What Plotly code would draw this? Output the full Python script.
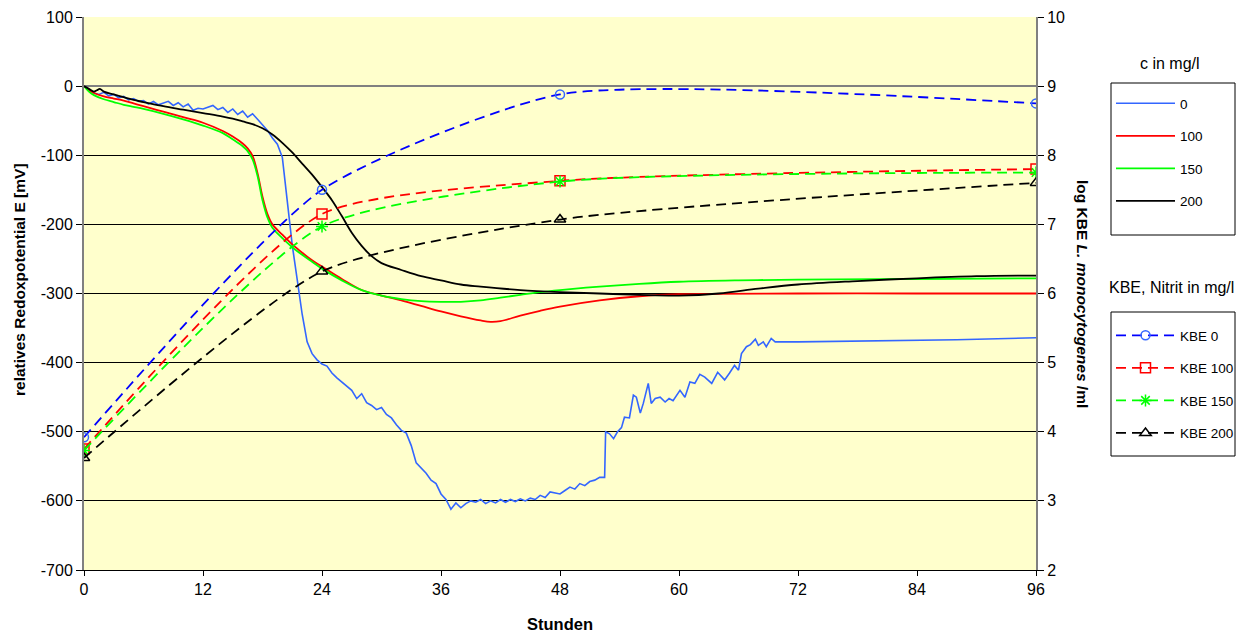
import plotly.graph_objects as go

# ---------------- data ----------------
# Redox potential curves (mV) - left axis
t_c0 = [0,0.5,1,1.5,2,2.5,3,3.5,4,4.5,5,5.5,6,6.5,7,7.5,8,8.5,9,9.5,10,10.5,11,11.5,12,12.5,13,13.5,14,14.5,
        15,15.5,16,16.5,17,17.5,18,18.5,19,19.5,20,20.5,21,21.5,22,22.5,23,23.5,24,24.5,25,25.5,26,26.5,27,27.5,
        28,28.5,29,29.5,30,30.5,31,31.5,32,32.5,33,33.5,34,34.5,35,35.5,36,36.5,37,37.5,38,38.5,39,39.5,40,40.5,
        41,41.5,42,42.5,43,43.5,44,44.5,45,45.5,46,46.5,47,47.5,48,48.5,49,49.5,50,50.5,51,51.5,52,52.5,52.6,53,
        53.4,53.8,54.2,54.5,55,55.4,55.7,56.1,56.4,56.9,57.2,57.6,58.1,58.6,59,59.4,60.1,60.6,61.1,61.6,62.1,62.6,
        63.3,63.9,64.6,65.1,65.6,66,66.3,66.8,67.2,67.7,68,68.5,68.8,69.3,69.7,72,80,88,96]
v_c0 = [0,-5,-10,-12,-9,-14,-12,-17,-15,-20,-18,-22,-21,-26,-22,-27,-24,-22,-28,-24,-30,-26,-35,-32,-33,-30,
        -28,-34,-31,-38,-33,-41,-36,-45,-40,-48,-56,-64,-75,-84,-103,-170,-230,-280,-330,-370,-387,-396,-402,-405,
        -415,-422,-428,-435,-440,-452,-445,-458,-462,-468,-465,-475,-480,-490,-498,-502,-520,-545,-553,-560,-570,
        -575,-590,-598,-612,-603,-610,-604,-600,-602,-598,-604,-600,-603,-598,-602,-598,-601,-597,-600,-596,-598,
        -592,-595,-587,-588,-590,-585,-580,-583,-575,-578,-572,-570,-566,-566,-500,-503,-510,-500,-494,-479,-480,
        -447,-450,-473,-459,-430,-459,-452,-450,-457,-452,-455,-440,-450,-428,-430,-417,-421,-430,-414,-425,-415,
        -404,-411,-387,-377,-374,-366,-375,-370,-377,-365,-370,-370,-369,-367,-364]

t_c100 = [0,0.5,1,2,3,4,5,6,8,10,12,14,15,16,16.5,17,17.5,18,18.5,19,20,21,22,23,24,26,28,30,32,34,36,38,40,41,
          42,44,46,48,52,56,60,72,84,96]
v_c100 = [0,-6,-10,-15,-18,-21,-25,-29,-37,-45,-53,-65,-73,-83,-90,-101,-126,-160,-185,-200,-215,-229,-241,-252,
          -261,-279,-295,-303,-310,-318,-326,-333,-339,-341,-340,-332,-325,-319,-310,-304,-301,-300,-300,-300]

t_c150 = [0,0.5,1,2,3,4,5,6,8,10,12,14,15,16,16.5,17,17.5,18,18.5,19,20,21,22,23,24,26,28,30,32,34,36,38,40,42,
          44,46,48,52,56,60,66,72,84,96]
v_c150 = [0,-8,-13,-19,-23,-27,-30,-33,-40,-48,-57,-68,-77,-87,-94,-106,-130,-165,-190,-205,-220,-233,-244,-254,
          -264,-281,-295,-303,-308,-311,-312,-312,-310,-306,-302,-298,-295,-290,-286,-283,-281,-280,-279,-278]

t_c200 = [0,0.5,1,1.3,1.6,2,3,4,5,6,8,10,12,14,15,16,17,18,19,20,21,22,23,24,25,26,27,28,29,30,32,34,36,38,40,44,
          48,52,56,60,64,68,72,78,84,90,96]
v_c200 = [0,-4,-8,-6,-4,-8,-12,-16,-20,-23,-29,-34,-39,-44,-47,-51,-55,-61,-70,-82,-96,-112,-128,-146,-165,-188,
          -212,-231,-246,-256,-266,-275,-281,-287,-290,-295,-298,-300,-302,-303,-300,-293,-287,-282,-278,-275,-274]

# log KBE (right axis)
t_kbe = [0, 24, 48, 96]
kbe0 = [3.92, 7.50, 8.88, 8.75]
kbe100 = [3.75, 7.15, 7.63, 7.80]
kbe150 = [3.73, 6.97, 7.62, 7.75]
kbe200 = [3.62, 6.32, 7.07, 7.60]

x_ticks = [0, 12, 24, 36, 48, 60, 72, 84, 96]
y_ticks = [-700, -600, -500, -400, -300, -200, -100, 0, 100]
y_ticklabels = ["-700", "-600", "-500", "-400", "-300", "-200", "-100", "0", "100"]
redox_names = ["0", "100", "150", "200"]
kbe_names = ["KBE 0", "KBE 100", "KBE 150", "KBE 200"]

# ---------------- figure ----------------
FONT = "Liberation Sans, Arial, sans-serif"
OFF = 8                      # page body margin
W, H = 1250 - OFF, 634 - OFF
L, R, T, B = 84, 1036, 17, 570   # plot area in screen pixels
fig = go.Figure()

redox_series = [(t_c0, v_c0, "#3366FF"), (t_c100, v_c100, "#FF0000"),
                (t_c150, v_c150, "#00FF00"), (t_c200, v_c200, "#000000")]
for i, (tx, vy, col) in enumerate(redox_series):
    fig.add_trace(go.Scatter(
        x=tx, y=vy, mode="lines", name=redox_names[i],
        line=dict(color=col, width=1.8 if i else 1.6, shape="linear" if i == 0 else "spline"),
        legend="legend", legendgroup="r%d" % i, yaxis="y"))

kbe_series = [(kbe0, "#0000FF", "#3366FF", "circle-open", 9),
              (kbe100, "#FF0000", "#FF0000", "square-open", 10),
              (kbe150, "#00FF00", "#00FF00", "asterisk-open", 10),
              (kbe200, "#000000", "#000000", "triangle-up-open", 10)]
for i, (vals, lcol, mcol, sym, ms) in enumerate(kbe_series):
    fig.add_trace(go.Scatter(
        x=t_kbe, y=vals, mode="lines+markers", name=kbe_names[i],
        line=dict(color=lcol, width=1.8, dash="10px,6px", shape="spline", smoothing=0.6),
        marker=dict(symbol=sym, size=ms, color=mcol, line=dict(color=mcol, width=1.5)),
        legend="legend2", legendgroup="k%d" % i, yaxis="y2"))

fig.update_layout(
    width=W, height=H,
    margin=dict(l=L - OFF, r=W - (R - OFF), t=T - OFF, b=H - (B - OFF), autoexpand=False),
    paper_bgcolor="white",
    plot_bgcolor="#FFFFCC",
    font=dict(family=FONT, size=16, color="black"),
    xaxis=dict(range=[0, 96], tickvals=x_ticks, ticks="outside", ticklen=5, tickcolor="#000000",
               showgrid=False, zeroline=False, showline=True, linecolor="#000000", linewidth=1,
               automargin=False, tickfont=dict(size=16)),
    yaxis=dict(range=[-700, 100], tickvals=y_ticks, ticktext=y_ticklabels, ticks="outside", ticklen=6,
               tickcolor="#000000", showgrid=True, gridcolor="#000000", gridwidth=1,
               zeroline=True, zerolinecolor="#808080", zerolinewidth=2,
               showline=True, linecolor="#808080", linewidth=2, mirror=False,
               automargin=False, tickfont=dict(size=16)),
    yaxis2=dict(range=[2, 10], dtick=1, overlaying="y", side="right", ticks="outside", ticklen=6,
                tickcolor="#000000", showgrid=False, zeroline=False, showline=True, linecolor="#808080",
                linewidth=2, automargin=False, tickfont=dict(size=16)),
    legend=dict(x=(1111 - L) / (R - L), y=1 - (88 - T) / (B - T), xanchor="left", yanchor="top",
                bgcolor="rgba(0,0,0,0)", borderwidth=0, tracegroupgap=12, itemwidth=59,
                font=dict(size=13.5)),
    legend2=dict(x=(1111 - L) / (R - L), y=1 - (320 - T) / (B - T), xanchor="left", yanchor="top",
                 bgcolor="rgba(0,0,0,0)", borderwidth=0, tracegroupgap=12, itemwidth=59,
                 font=dict(size=13.5)),
    showlegend=True,
)

def px_x(p):
    return (p - L) / (R - L)

def px_y(p):
    return 1 - (p - T) / (B - T)

# legend boxes
for (y0, y1) in [(83, 235), (312, 456)]:
    fig.add_shape(type="rect", xref="paper", yref="paper",
                  x0=px_x(1111), x1=px_x(1235), y0=px_y(y1), y1=px_y(y0),
                  line=dict(color="black", width=1), fillcolor="rgba(0,0,0,0)")

fig.add_annotation(text="c in mg/l", xref="paper", yref="paper", x=px_x(1170), y=px_y(63),
                   showarrow=False, font=dict(size=16), xanchor="center", yanchor="middle")
fig.add_annotation(text="KBE, Nitrit in mg/l", xref="paper", yref="paper", x=px_x(1171), y=px_y(287),
                   showarrow=False, font=dict(size=16), xanchor="center", yanchor="middle")
fig.add_annotation(text="<b>log KBE <i>L. monocytogenes</i> /ml</b>", xref="paper", yref="paper",
                   x=px_x(1083), y=px_y(294), textangle=90, showarrow=False, font=dict(size=15.5),
                   xanchor="center", yanchor="middle")
fig.add_annotation(text="<b>relatives Redoxpotential E [mV]</b>", xref="paper", yref="paper",
                   x=px_x(19), y=px_y(280), textangle=-90, showarrow=False, font=dict(size=15.5),
                   xanchor="center", yanchor="middle")
fig.add_annotation(text="<b>Stunden</b>", xref="paper", yref="paper",
                   x=px_x(560), y=px_y(624), showarrow=False, font=dict(size=16.5),
                   xanchor="center", yanchor="middle")

fig.write_html("out.html")
